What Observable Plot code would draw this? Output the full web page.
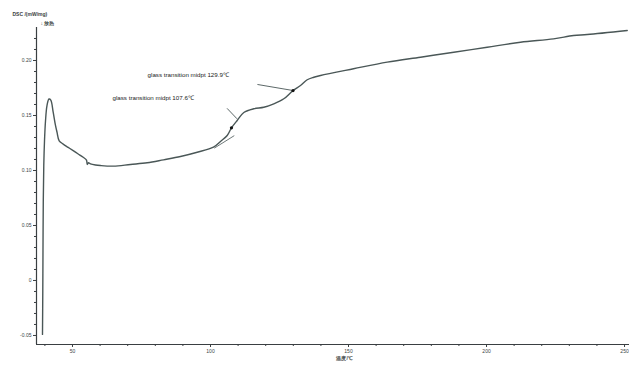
<!DOCTYPE html>
<html>
<head>
<meta charset="utf-8">
<script src="https://cdn.jsdelivr.net/npm/d3@7"></script>
<script src="https://cdn.jsdelivr.net/npm/@observablehq/plot@0.6"></script>
<style>
  html, body { margin: 0; padding: 0; background: #fff; }
  #chart svg { display: block; }
</style>
</head>
<body>
<div id="chart"></div>
<script>
// DSC heating trace: temperature (°C) and heat flow (mW/mg)
const temperature = [
  39.13, 39.24, 39.31, 39.42, 39.60, 39.86, 40.22, 40.76, 41.49, 42.14,
  43.00, 43.84, 44.38, 45.18, 46.63, 48.44, 50.25, 52.07, 53.88, 55.07,
  55.36, 55.80, 56.52, 58.33, 60.14, 64.86, 71.00, 77.07, 82.97, 89.13,
  95.18, 101.09, 103.62, 106.05, 107.6, 109.67, 112.07, 115.69, 119.31, 122.93,
  126.56, 129.9, 132.60, 135.04, 137.43, 139.86, 151.81, 164.02, 176.09, 188.15,
  200.25, 212.32, 224.28, 231.52, 236.49, 250.98
];
const heatFlow = [
  -0.049, -0.009, 0.027, 0.073, 0.105, 0.127, 0.145, 0.159, 0.165, 0.164,
  0.153, 0.141, 0.135, 0.127, 0.124, 0.121, 0.118, 0.115, 0.112, 0.1095,
  0.1055, 0.107, 0.106, 0.105, 0.1045, 0.104, 0.1055, 0.107, 0.1097, 0.1127,
  0.1166, 0.1212, 0.1264, 0.1318, 0.1388, 0.1455, 0.1527, 0.1561, 0.1575, 0.1606,
  0.1652, 0.1727, 0.1773, 0.1825, 0.1848, 0.1864, 0.1925, 0.1985, 0.2030, 0.2075,
  0.2121, 0.2166, 0.2197, 0.2227, 0.2236, 0.2273
];

// Glass transition midpoints
const tgTemps = [107.6, 129.9];
const tgValues = [0.1388, 0.1727];
const tgLabels = ["glass transition midpt 107.6℃", "glass transition midpt 129.9℃"];
// label anchor positions (temperature, heat flow) and leader line ends
const tgLabelT = [64.5, 77.2];
const tgLabelV = [0.1655, 0.1864];
const leaderT1 = [106.0, 117.0];
const leaderV1 = [0.1565, 0.1782];
const leaderT2 = [109.6, 129.9];
const leaderV2 = [0.147, 0.1727];

// Tangent construction line under the first step
const tangentT = [101.5, 108.5];
const tangentV = [0.1205, 0.1315];

// Axis ticks
const xMajor = [50, 100, 150, 200, 250];
const xMinor = [40, 60, 70, 80, 90, 110, 120, 130, 140, 160, 170, 180, 190, 210, 220, 230, 240];
const yMajor = [-0.05, 0, 0.05, 0.10, 0.15, 0.20];
const yLabels = ["-0.05", "0", "0.05", "0.10", "0.15", "0.20"];
const yMinor = [-0.04, -0.03, -0.02, -0.01, 0.01, 0.02, 0.03, 0.04, 0.06, 0.07, 0.08, 0.09,
                0.11, 0.12, 0.13, 0.14, 0.16, 0.17, 0.18, 0.19, 0.21, 0.22];

const yAxisTitle = "DSC /(mW/mg)";
const exoLabel = "↓ 放热";
const xAxisTitle = "温度/℃";

const trace = temperature.map((t, i) => ({t, v: heatFlow[i]}));
const tg = tgTemps.map((t, i) => ({
  t, v: tgValues[i], label: tgLabels[i], lt: tgLabelT[i], lv: tgLabelV[i],
  x1: leaderT1[i], y1: leaderV1[i], x2: leaderT2[i], y2: leaderV2[i]
}));

const ink = "#3a3f42";
const lineColor = "#4a5757";
const xDomain = [36.96, 251.8];
const yDomain = [-0.0582, 0.23];

const chart = Plot.plot({
  width: 629,
  height: 373,
  marginLeft: 36,
  marginRight: 0,
  marginTop: 27,
  marginBottom: 29,
  x: {domain: xDomain},
  y: {domain: yDomain},
  style: {fontFamily: "Liberation Sans, Arial, sans-serif", fontSize: "5px", color: ink, background: "#fff"},
  marks: [
    // axis lines
    Plot.ruleX([xDomain[0]], {stroke: ink, strokeWidth: 1.2}),
    Plot.ruleY([yDomain[0]], {stroke: ink, strokeWidth: 1.2}),
    // ticks
    Plot.axisX(xMinor, {tickSize: 2, tickFormat: () => "", stroke: ink}),
    Plot.axisX(xMajor, {tickSize: 3, tickPadding: 2, tickFormat: d => String(d), fill: ink, stroke: ink}),
    Plot.axisY(yMinor, {tickSize: 2, tickFormat: () => "", stroke: ink}),
    Plot.axisY(yMajor, {tickSize: 3, tickPadding: 2, tickFormat: (d, i) => yLabels[i], fill: ink, stroke: ink}),
    // titles
    Plot.text([yAxisTitle], {frameAnchor: "top-left", dx: -24, dy: -15, textAnchor: "start", fill: ink, fontSize: 5, fontWeight: "bold"}),
    Plot.text([exoLabel], {frameAnchor: "top-left", dx: 4, dy: -6, textAnchor: "start", fill: ink, fontSize: 5, fontWeight: "bold"}),
    Plot.text([xAxisTitle], {x: () => 148.6, frameAnchor: "bottom", dy: 15, fill: ink, fontSize: 5, fontWeight: "bold"}),
    // tangent construction
    Plot.line(tangentT.map((t, i) => ({t, v: tangentV[i]})), {x: "t", y: "v", stroke: lineColor, strokeWidth: 0.8}),
    // DSC curve
    Plot.line(trace, {x: "t", y: "v", stroke: lineColor, strokeWidth: 1.4, curve: "catmull-rom"}),
    // glass transition annotations
    Plot.link(tg, {x1: "x1", y1: "y1", x2: "x2", y2: "y2", stroke: lineColor, strokeWidth: 0.9}),
    Plot.dot(tg, {x: "t", y: "v", r: 1.6, fill: "#111", stroke: "none"}),
    Plot.text(tg, {x: "lt", y: "lv", text: "label", textAnchor: "start", fill: "#222", fontSize: 6.2})
  ]
});

document.getElementById("chart").append(chart);
</script>
</body>
</html>
